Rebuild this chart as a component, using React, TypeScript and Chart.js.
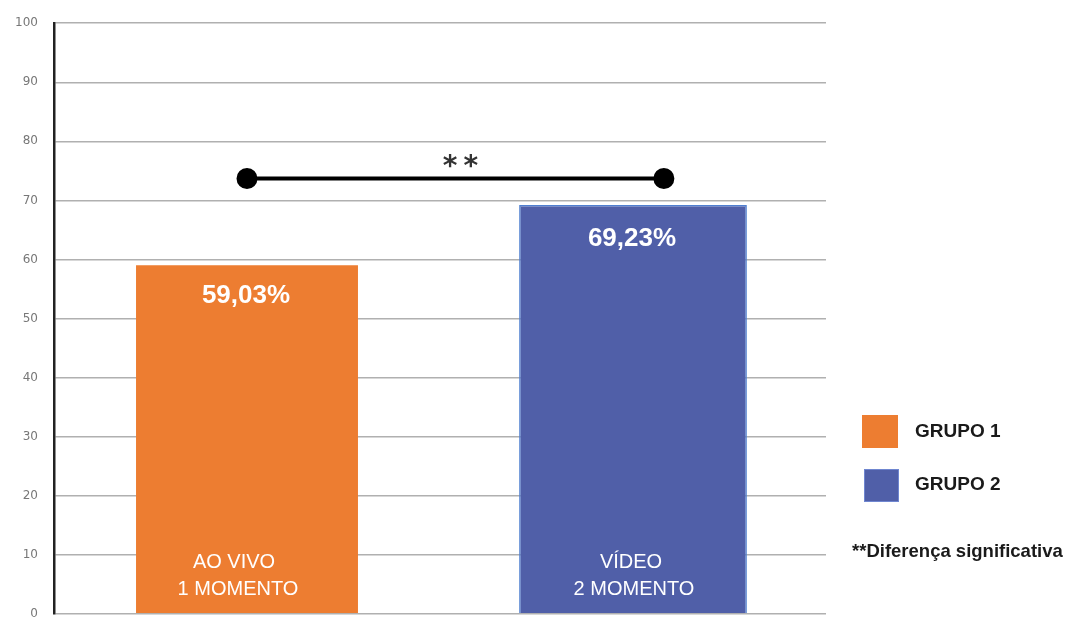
import React, { useEffect, useRef } from "react";
import { Chart, registerables } from "chart.js";

Chart.register(...registerables);

const categories: string[][] = [["AO VIVO", "1 MOMENTO"], ["VÍDEO", "2 MOMENTO"]];
const seriesNames = ["GRUPO 1", "GRUPO 2"];
const grupo1 = [59.03, null];
const grupo2 = [null, 69.23];
const valueLabels = ["59,03%", "69,23%"];
const sigLineX = [0.5, 1.58];
const sigLineY = [73.7, 73.7];
const sigLabel = "**";
const footnote = "**Diferença significativa";
const yTicks = [0, 10, 20, 30, 40, 50, 60, 70, 80, 90, 100];

const ORANGE = "#ED7D31";
const BLUE = "#505FA8";

const labelPlugin = {
  id: "customLabels",
  afterDatasetsDraw(chart: any) {
    const ctx = chart.ctx;
    const yScale = chart.scales.y;
    const base = yScale.getPixelForValue(0);
    const catShift = [[-13, -9], [-2, 1]];
    const valShift = [31, 34];
    ctx.save();
    [0, 1].forEach((di) => {
      const meta = chart.getDatasetMeta(di);
      meta.data.forEach((bar: any, i: number) => {
        const v = chart.data.datasets[di].data[i];
        if (v == null) return;
        ctx.fillStyle = "#ffffff";
        ctx.textAlign = "center";
        ctx.textBaseline = "middle";
        ctx.font = "bold 26px 'Liberation Sans', Arial, sans-serif";
        ctx.fillText(valueLabels[i], bar.x - 1, bar.y + valShift[i]);
        const lines = chart.data.labels[i] as string[];
        ctx.font = "20px 'Liberation Sans', Arial, sans-serif";
        ctx.fillText(lines[0], bar.x + catShift[i][0], base - 51);
        ctx.fillText(lines[1], bar.x + catShift[i][1], base - 24);
      });
    });
    const lm = chart.getDatasetMeta(2);
    if (lm && lm.data.length === 2) {
      const p0 = lm.data[0];
      const p1 = lm.data[1];
      ctx.fillStyle = "#333333";
      ctx.textAlign = "center";
      ctx.textBaseline = "alphabetic";
      ctx.font = "bold 28px 'DejaVu Sans', sans-serif";
      (ctx as any).letterSpacing = "6px";
      ctx.fillText(sigLabel, (p0.x + p1.x) / 2 + 8, p0.y - 4);
      (ctx as any).letterSpacing = "0px";
    }
    ctx.restore();
  },
};

export default function App() {
  const ref = useRef<HTMLCanvasElement | null>(null);
  useEffect(() => {
    if (!ref.current) return;
    const chart = new Chart(ref.current, {
      type: "bar",
      data: {
        labels: categories as any,
        datasets: [
          {
            label: seriesNames[0],
            data: grupo1 as any,
            backgroundColor: ORANGE,
            borderWidth: 0,
            grouped: false,
            barPercentage: 0.575,
            categoryPercentage: 1,
          } as any,
          {
            label: seriesNames[1],
            data: grupo2 as any,
            backgroundColor: BLUE,
            borderColor: "#4f7fd0",
            borderWidth: 1.5,
            grouped: false,
            barPercentage: 0.59,
            categoryPercentage: 1,
          } as any,
          {
            type: "line",
            label: "sig",
            xAxisID: "x2",
            data: sigLineX.map((x, i) => ({ x, y: sigLineY[i] })),
            borderColor: "#000000",
            borderWidth: 4,
            pointRadius: 8.5,
            pointBackgroundColor: "#000000",
            pointBorderColor: "#000000",
            order: -1,
          } as any,
        ],
      },
      options: {
        animation: false,
        responsive: true,
        maintainAspectRatio: false,
        layout: { padding: { top: 8, right: 242, left: 0, bottom: 0 } },
        plugins: { legend: { display: false }, tooltip: { enabled: false } },
        scales: {
          x: {
            display: true,
            ticks: { display: false },
            grid: { display: false, drawTicks: false },
            border: { display: false },
          },
          x2: {
            type: "linear",
            min: 0,
            max: 2,
            offset: false,
            display: false,
          },
          y: {
            min: 0,
            max: 100,
            afterFit: (s: any) => {
              s.width = 54;
            },
            afterBuildTicks: (s: any) => {
              s.ticks = yTicks.map((v) => ({ value: v }));
            },
            ticks: {
              stepSize: 10,
              padding: 16,
              color: "#777777",
              font: { family: "'DejaVu Sans', sans-serif", size: 12 },
            },
            grid: { color: "#b0b0b0", lineWidth: 1.5, drawTicks: false },
            border: { color: "#222222", width: 2.5 },
          },
        },
      } as any,
      plugins: [labelPlugin],
    });
    return () => chart.destroy();
  }, []);

  const legendText: React.CSSProperties = {
    position: "absolute",
    fontFamily: "'Liberation Sans', Arial, sans-serif",
    fontWeight: "bold",
    fontSize: 19,
    color: "#1a1a1a",
    lineHeight: "22px",
    whiteSpace: "nowrap",
  };

  return (
    <div style={{ position: "fixed", left: 0, top: 0, width: 1068, height: 617, overflow: "hidden", background: "#ffffff" }}>
      <div style={{ position: "absolute", left: 0, top: 0, width: 1068, height: 637 }}>
        <canvas ref={ref} />
      </div>
      <div style={{ position: "absolute", left: 862, top: 415, width: 36, height: 33, background: ORANGE }} />
      <div style={{ ...legendText, left: 915, top: 420 }}>{seriesNames[0]}</div>
      <div style={{ position: "absolute", left: 864, top: 469, width: 33, height: 31, background: BLUE, border: "1px solid #6f86d0" }} />
      <div style={{ ...legendText, left: 915, top: 473 }}>{seriesNames[1]}</div>
      <div style={{ ...legendText, fontSize: 18.5, left: 852, top: 540 }}>{footnote}</div>
    </div>
  );
}
